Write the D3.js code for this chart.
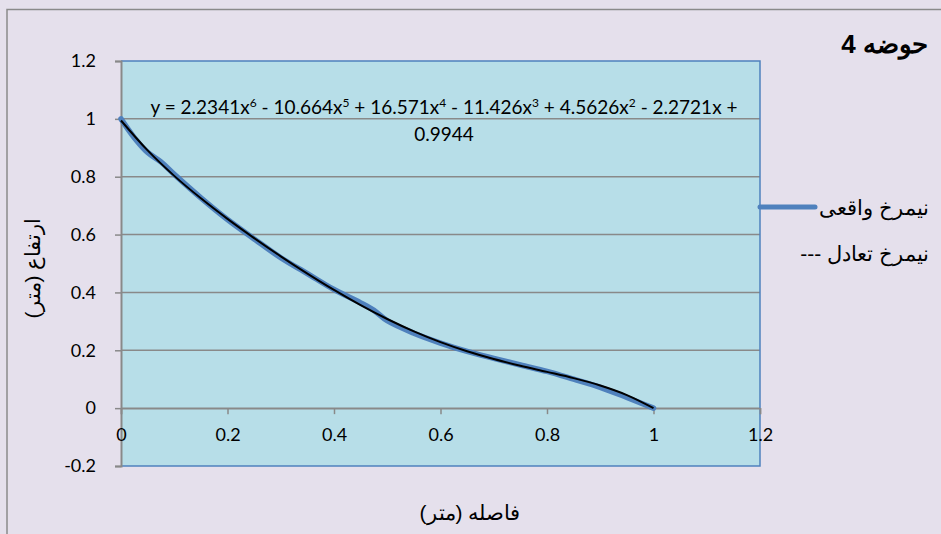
<!DOCTYPE html>
<html><head><meta charset="utf-8">
<script src="https://cdn.jsdelivr.net/npm/d3@7/dist/d3.min.js"></script>
<style>
html,body{margin:0;padding:0;background:#E5E0EC;}
svg{display:block;}
</style></head>
<body>
<svg id="chart" width="941" height="534"></svg>
<script>
// ---- data ----
const title = "حوضه 4";
const xLabel = "فاصله (متر)";
const yLabel = "ارتفاع (متر)";
const seriesNames = ["نیمرخ واقعی", "--- نیمرخ تعادل"];
const xTicks = [0, 0.2, 0.4, 0.6, 0.8, 1, 1.2];
const yTicks = [-0.2, 0, 0.2, 0.4, 0.6, 0.8, 1, 1.2];
// real profile (blue)
const realX = [0, 0.025, 0.05, 0.075, 0.1, 0.15, 0.2, 0.25, 0.3, 0.35, 0.4, 0.45, 0.475, 0.5, 0.55, 0.6, 0.65, 0.7, 0.75, 0.8, 0.85, 0.9, 0.95, 1];
const realY = [1.0, 0.935, 0.884, 0.851, 0.808, 0.727, 0.652, 0.585, 0.52, 0.465, 0.41, 0.364, 0.338, 0.302, 0.259, 0.225, 0.196, 0.172, 0.149, 0.127, 0.1, 0.072, 0.037, 0];
// equilibrium profile / trendline (black)
const eqX = [0, 0.05, 0.1, 0.15, 0.2, 0.25, 0.3, 0.35, 0.4, 0.45, 0.5, 0.55, 0.6, 0.65, 0.7, 0.75, 0.8, 0.85, 0.9, 0.95, 1];
const eqY = [0.9944, 0.8909, 0.8029, 0.7253, 0.6543, 0.5879, 0.5248, 0.4650, 0.4085, 0.3560, 0.3081, 0.2654, 0.2283, 0.1966, 0.1697, 0.1466, 0.1254, 0.1037, 0.0782, 0.0452, 0.0];
const eqTerms = [["y = 2.2341x", "6"], [" - 10.664x", "5"], [" + 16.571x", "4"], [" - 11.426x", "3"], [" + 4.5626x", "2"], [" - 2.2721x +", ""]];
const eqLine2 = "0.9944";

// ---- layout ----
const svg = d3.select("#chart");
const L = 121, R = 760, T = 61, B = 466;
const x = d3.scaleLinear().domain([0, 1.2]).range([L, R]);
const y = d3.scaleLinear().domain([-0.2, 1.2]).range([B, T]);
const grey = "#898989", blue = "#4F81BD";
const tickFont = "Lato, 'Open Sans', sans-serif";
const arial = "'Liberation Sans', Arial, sans-serif";

// outer border
svg.append("rect").attr("x", 7).attr("y", 9.5).attr("width", 960).attr("height", 560)
  .attr("fill", "#E5E0EC").attr("stroke", "#8a8a8a").attr("stroke-width", 1.5);

// plot area
svg.append("rect").attr("x", L).attr("y", T).attr("width", R - L).attr("height", B - T)
  .attr("fill", "#B7DEE8");

// gridlines
svg.append("g").selectAll("line").data(yTicks.filter(d => d > -0.2 && d < 1.2)).join("line")
  .attr("x1", L).attr("x2", R).attr("y1", d => y(d)).attr("y2", d => y(d))
  .attr("stroke", grey).attr("stroke-width", 1.5);

// plot border (top, right, bottom blue)
svg.append("path")
  .attr("d", `M${L},${T}H${R}V${B}H${L}`)
  .attr("fill", "none").attr("stroke", blue).attr("stroke-width", 1.5);

// y axis
const fmt = d => String(+d.toFixed(1));
const yAxis = d3.axisLeft(y).tickValues(yTicks).tickSize(6).tickPadding(19).tickFormat(fmt);
const gy = svg.append("g").attr("transform", `translate(${L},0)`).call(yAxis);
gy.select(".domain").attr("stroke", grey).attr("stroke-width", 2);
gy.selectAll(".tick line").attr("stroke", grey).attr("stroke-width", 1.5);
gy.selectAll(".tick text").attr("font-family", tickFont).attr("font-size", 18).attr("fill", "#000");

// x axis at y=0
const xAxis = d3.axisBottom(x).tickValues(xTicks).tickSize(6).tickPadding(14).tickFormat(fmt);
const gx = svg.append("g").attr("transform", `translate(0,${y(0)})`).call(xAxis);
gx.select(".domain").attr("stroke", grey).attr("stroke-width", 1.5);
gx.selectAll(".tick line").attr("stroke", grey).attr("stroke-width", 1.5);
gx.selectAll(".tick text").attr("font-family", tickFont).attr("font-size", 18).attr("fill", "#000");

// lines
const realData = realX.map((v, i) => [v, realY[i]]);
const eqData = eqX.map((v, i) => [v, eqY[i]]);
const line = d3.line().x(d => x(d[0])).y(d => y(d[1])).curve(d3.curveCatmullRom.alpha(0.5));
svg.append("path").datum(realData).attr("d", line).attr("fill", "none")
  .attr("stroke", blue).attr("stroke-width", 5.5).attr("stroke-linecap", "round").attr("stroke-linejoin", "round");
svg.append("path").datum(eqData).attr("d", line).attr("fill", "none")
  .attr("stroke", "#000").attr("stroke-width", 2);

// equation
const eq = svg.append("text").attr("x", 444).attr("y", 114).attr("text-anchor", "middle")
  .attr("font-family", tickFont).attr("font-size", 19).attr("fill", "#000");
let raised = false;
eqTerms.forEach(t => {
  eq.append("tspan").attr("dy", raised ? 7 : 0).text(t[0]);
  raised = false;
  if (t[1]) { eq.append("tspan").attr("font-size", 12).attr("dy", -7).text(t[1]); raised = true; }
});
svg.append("text").attr("x", 444).attr("y", 141).attr("text-anchor", "middle")
  .attr("font-family", tickFont).attr("font-size", 19).attr("fill", "#000").text(eqLine2);

// title
svg.append("text").attr("x", 928).attr("y", 53).attr("text-anchor", "end")
  .attr("font-family", arial).attr("font-weight", "bold").attr("font-size", 26).attr("fill", "#000").text(title);

// legend
svg.append("line").attr("x1", 760).attr("x2", 815).attr("y1", 207).attr("y2", 207)
  .attr("stroke", blue).attr("stroke-width", 5).attr("stroke-linecap", "round");
svg.append("text").attr("x", 929).attr("y", 215).attr("text-anchor", "end")
  .attr("font-family", arial).attr("font-size", 21).attr("fill", "#000").text(seriesNames[0]);
svg.append("text").attr("x", 929).attr("y", 261).attr("text-anchor", "end")
  .attr("font-family", arial).attr("font-size", 21).attr("fill", "#000").text(seriesNames[1]);

// axis titles
svg.append("text").attr("x", 470).attr("y", 520).attr("text-anchor", "middle")
  .style("direction", "rtl").style("unicode-bidi", "embed")
  .attr("font-family", arial).attr("font-size", 21).attr("fill", "#000").text(xLabel);
svg.append("text").attr("transform", "translate(40,268) rotate(-90)").attr("text-anchor", "middle")
  .attr("font-family", arial).attr("font-size", 21).attr("fill", "#000").text(yLabel);
</script>
</body></html>
